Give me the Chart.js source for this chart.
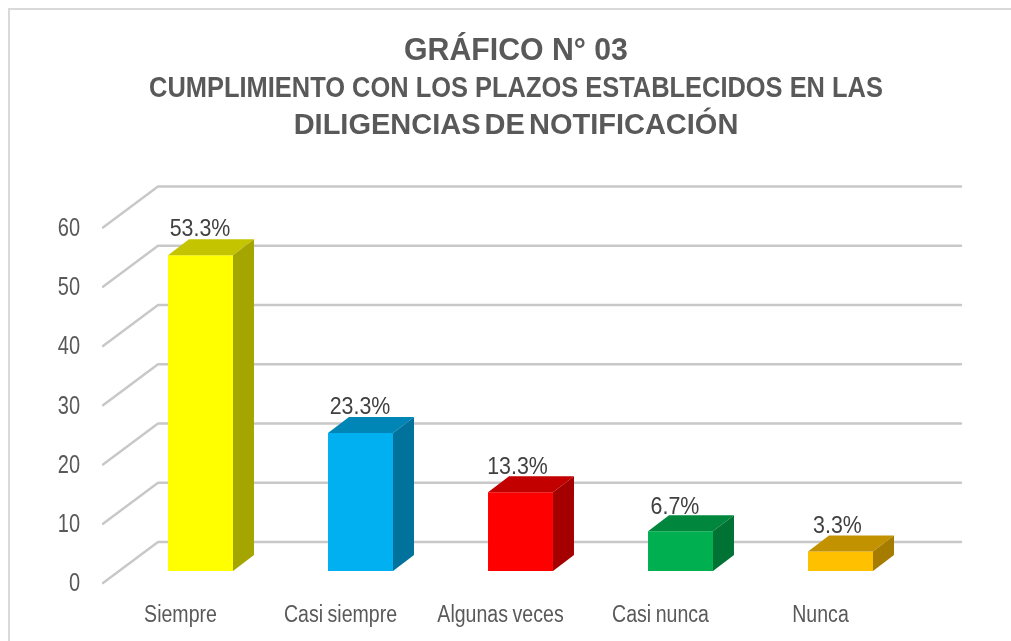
<!DOCTYPE html>
<html><head><meta charset="utf-8">
<style>html,body{margin:0;padding:0;background:#fff}#w{width:1011px;height:641px;position:relative}</style>
<script src="https://cdn.jsdelivr.net/npm/chart.js@4"></script>
</head><body><div id="w"><canvas id="c" width="1011" height="641"></canvas></div>
<script>
const categories = ["Siempre","Casi siempre","Algunas veces","Casi nunca","Nunca"];
const values = [53.3,23.3,13.3,6.7,3.3];
const valueLabels = ["53.3%","23.3%","13.3%","6.7%","3.3%"];
const frontColors = ["#FFFF00","#00B0F0","#FF0000","#00B050","#FFC000"];
const sideColors = ["#A5A500","#00729C","#A50000","#007234","#A57C00"];
const topColors = ["#C4C400","#0086B6","#C20000","#00863D","#C29200"];
const titleLine = "GRÁFICO N° 03";
const subtitleLines = ["CUMPLIMIENTO CON LOS PLAZOS ESTABLECIDOS EN LAS","DILIGENCIAS DE NOTIFICACIÓN"];
const FONT = "'Liberation Sans', Arial, sans-serif";
const DX=21, DY=16;

const canvas=document.getElementById('c');
const rawCtx=canvas.getContext('2d');
const origFill=rawCtx.fillText.bind(rawCtx);
// Office-style condensed glyphs: squeeze text horizontally about its anchor
rawCtx.fillText=function(t,x,y,w){
  const f=rawCtx.font; let sx=1, ws='0px';
  if(/bold/.test(f)){
    if(t===titleLine) sx=0.945;
    else if(t.startsWith('DILIG')){ sx=1; ws='-4px'; }
    else sx=0.877;
  } else if(t.endsWith('%')){ sx=0.93; }
  else if(/25px/.test(f)){ sx=0.8; }
  else if(/23px/.test(f)){ sx=0.85; ws='-1px'; }
  rawCtx.save();
  rawCtx.translate(x,y); rawCtx.scale(sx,1);
  rawCtx.wordSpacing=ws;
  if(w===undefined) origFill(t,0,0); else origFill(t,0,0,w/sx);
  rawCtx.restore();
};

const frame = {id:'frame',
  afterLayout(ch){ ch.boxes.forEach(b=>{ if(b.options && b.options.text && !b.ticks){ b.left=21; b.right=1011; } }); },
  beforeDraw(ch){const c=ch.ctx;c.save();c.fillStyle='#fff';c.fillRect(0,0,1011,641);
  c.strokeStyle='#d9d9d9';c.lineWidth=2;c.beginPath();c.moveTo(9,641);c.lineTo(9,9);c.lineTo(1011,9);c.stroke();c.restore();}};

const grid3d = {id:'grid3d',beforeDatasetsDraw(ch){
  const c=ch.ctx,y=ch.scales.y,a=ch.chartArea;c.save();
  c.strokeStyle='#c8c8c8';c.lineWidth=2.4;c.lineCap='round';c.lineJoin='round';
  y.ticks.forEach(t=>{const p=y.getPixelForValue(t.value);
    c.beginPath();c.moveTo(a.left-17.5,p+12);c.lineTo(a.left+37.5,p-29);c.lineTo(a.right+40.5,p-29);c.stroke();});
  c.restore();}};

const bars3d = {id:'bars3d',afterDatasetsDraw(ch){
  const c=ch.ctx,m=ch.getDatasetMeta(0);c.save();
  m.data.forEach((b,i)=>{const l=b.x-b.width/2,r=b.x+b.width/2,t=b.y,bo=b.base;
    c.fillStyle='#404040';c.font="23px "+FONT;c.textAlign='center';c.textBaseline='middle';
    c.fillText(valueLabels[i],b.x-(i<2?0.5:(i===3?5.5:3)),t-(i===3?24:25));
    c.fillStyle=topColors[i];c.beginPath();c.moveTo(l,t);c.lineTo(l+DX,t-DY);c.lineTo(r+DX,t-DY);c.lineTo(r,t);c.closePath();c.fill();
    c.fillStyle=sideColors[i];c.beginPath();c.moveTo(r,t);c.lineTo(r+DX,t-DY);c.lineTo(r+DX,bo-DY);c.lineTo(r,bo);c.closePath();c.fill();
  });c.restore();}};

new Chart(canvas,{
  type:'bar',
  data:{labels:categories,datasets:[{data:values,backgroundColor:frontColors,borderWidth:0,
    barPercentage:0.406,categoryPercentage:1}]},
  plugins:[frame,grid3d,bars3d],
  options:{responsive:false,animation:false,
    layout:{padding:{top:0,left:0,right:90.5,bottom:0}},
    plugins:{legend:{display:false},tooltip:{enabled:false},
      title:{display:true,text:titleLine,color:'#595959',font:{family:FONT,size:32,weight:'bold',lineHeight:1.1},padding:{top:34,bottom:0}},
      subtitle:{display:true,text:subtitleLines,color:'#595959',font:{family:FONT,size:29,weight:'bold',lineHeight:1.28},padding:{top:1,bottom:71}}},
    scales:{
      x:{grid:{display:false},border:{display:false},
        ticks:{font:{family:FONT,size:23},color:'#595959',labelOffset:-20,padding:23,maxRotation:0,autoSkip:false},
        afterFit(s){s.height=70;}},
      y:{min:0,max:60,grid:{display:false},border:{display:false},
        ticks:{stepSize:10,font:{family:FONT,size:25},color:'#595959',labelOffset:13.5,padding:32.5},
        afterFit(s){s.width=120.5;}}
    }}
});
</script></body></html>
